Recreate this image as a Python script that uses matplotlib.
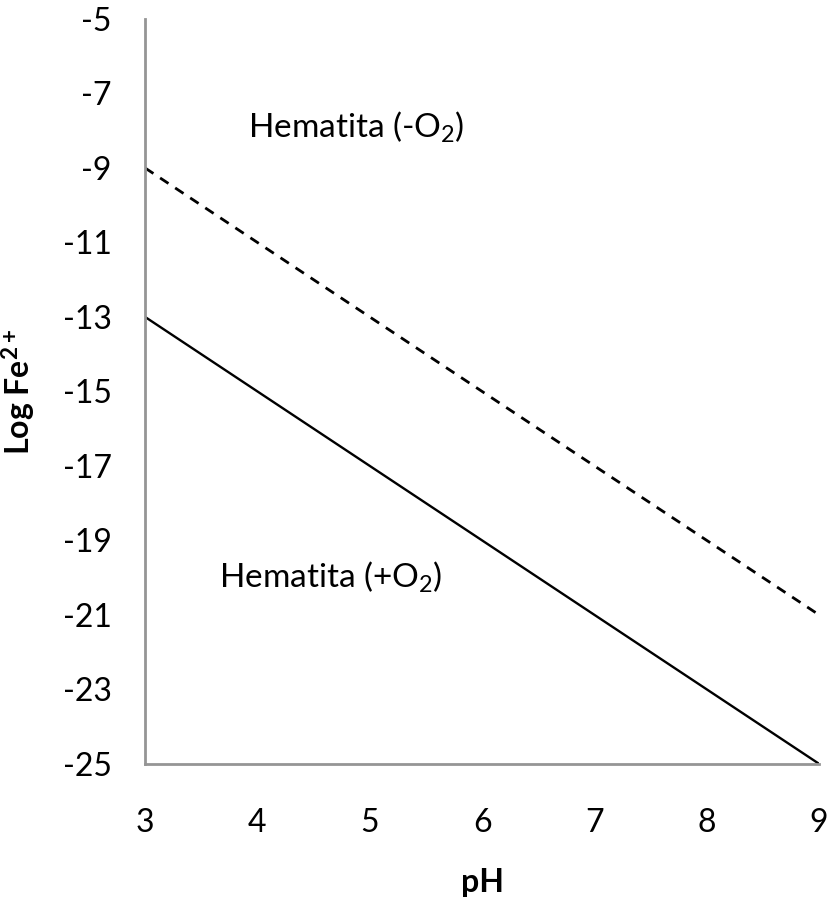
import matplotlib
matplotlib.use('Agg')
import matplotlib.pyplot as plt

plt.rcParams['font.family'] = ['Lato', 'DejaVu Sans']
plt.rcParams['mathtext.fontset'] = 'custom'
plt.rcParams['mathtext.rm'] = 'Lato'
plt.rcParams['mathtext.bf'] = 'Lato:bold'
plt.rcParams['mathtext.default'] = 'rm'
plt.rcParams['axes.unicode_minus'] = False

# data
ph = [3, 9]
log_fe_plus_o2 = [-13, -25]    # solid line
log_fe_minus_o2 = [-9, -21]    # dashed line
x_ticks = [3, 4, 5, 6, 7, 8, 9]
y_ticks = [-5, -7, -9, -11, -13, -15, -17, -19, -21, -23, -25]

fig = plt.figure(figsize=(8.29, 9.05), dpi=100)
ax = fig.add_axes([0.175, 0.156, 0.813, 0.823])

ax.plot(ph, log_fe_plus_o2, color='black', linewidth=1.7)
ax.plot(ph, log_fe_minus_o2, color='black', linewidth=2, linestyle=(0, (3.6, 2.9)))

ax.set_xlim(3, 9)
ax.set_ylim(-25, -5)
ax.set_xticks(x_ticks)
ax.set_yticks(y_ticks)
ax.tick_params(length=0, labelsize=23)
ax.tick_params(axis='x', pad=32)
ax.tick_params(axis='y', pad=24)

for side in ['top', 'right']:
    ax.spines[side].set_visible(False)
for side in ['left', 'bottom']:
    ax.spines[side].set_color('#959595')
    ax.spines[side].set_linewidth(2)

ax.text(3.92, -7.9, 'Hematita (-O$_2$)', fontsize=24, va='center', ha='left')
ax.text(3.66, -20.0, 'Hematita (+O$_2$)', fontsize=24, va='center', ha='left')

ax.set_xlabel('pH', fontsize=23, fontweight='bold')
ax.set_ylabel(r'Log Fe$^{\mathbf{2+}}$', fontsize=23, fontweight='bold')
ax.xaxis.set_label_coords(0.5, -0.14)
ax.yaxis.set_label_coords(-0.159, 0.5)

fig.savefig('out.png', dpi=100)
